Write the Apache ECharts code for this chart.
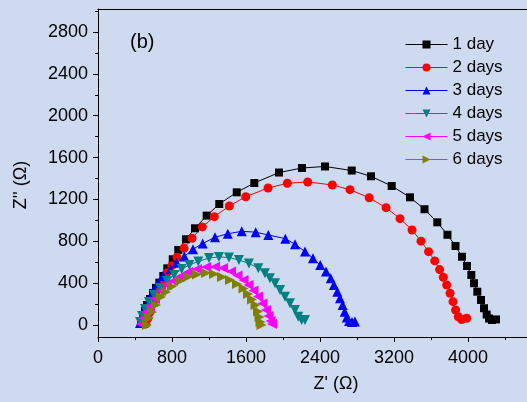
<!DOCTYPE html>
<html>
<head>
<meta charset="utf-8">
<title>EIS</title>
<script src="https://cdn.jsdelivr.net/npm/echarts@6/dist/echarts.min.js"></script>
<style>
  html, body {margin: 0; padding: 0; background: #cedaf0;}
  #main {width: 527px; height: 402px;}
</style>
</head>
<body>
<div id="main"></div>
<script>
// names shown in legend
var seriesNames = ['1 day', '2 days', '3 days', '4 days', '5 days', '6 days'];

// Z' values (ohm) / Z'' values (ohm)
var day1X = [465, 487, 508, 530, 562, 595, 627, 663, 706, 749, 808, 868, 951, 1049, 1175, 1311, 1500, 1690, 1957, 2205, 2454, 2743, 2951, 3175, 3373, 3530, 3668, 3778, 3865, 3935, 3989, 4036, 4065, 4101, 4141, 4173, 4202, 4227, 4259, 4303];
var day1Y = [29, 86, 134, 191, 248, 306, 354, 404, 468, 541, 628, 717, 819, 924, 1045, 1156, 1268, 1357, 1457, 1500, 1515, 1476, 1421, 1328, 1220, 1106, 981, 862, 755, 652, 564, 478, 399, 318, 239, 160, 100, 62, 48, 53];

var day2X = [519, 541, 562, 595, 627, 660, 692, 746, 797, 854, 930, 1016, 1128, 1257, 1420, 1597, 1838, 2047, 2267, 2533, 2724, 2932, 3114, 3265, 3395, 3492, 3574, 3641, 3693, 3733, 3770, 3806, 3838, 3866, 3895, 3932, 3986];
var day2Y = [10, 67, 124, 201, 277, 344, 401, 500, 567, 647, 733, 829, 937, 1035, 1137, 1226, 1309, 1354, 1367, 1338, 1293, 1216, 1121, 1016, 908, 801, 701, 612, 529, 456, 382, 303, 223, 143, 79, 52, 64];

var day3X = [454, 476, 497, 530, 562, 605, 649, 703, 782, 851, 933, 1027, 1132, 1265, 1403, 1554, 1705, 1841, 2025, 2130, 2238, 2324, 2403, 2465, 2516, 2551, 2587, 2616, 2645, 2667, 2689, 2714, 2746, 2778];
var day3Y = [19, 76, 134, 201, 268, 334, 401, 468, 532, 595, 655, 724, 779, 838, 872, 895, 887, 860, 825, 771, 702, 638, 572, 510, 447, 382, 318, 255, 191, 127, 72, 38, 29, 33];

var day4X = [454, 476, 508, 551, 605, 670, 746, 822, 905, 987, 1084, 1200, 1308, 1416, 1524, 1632, 1733, 1805, 1859, 1914, 1968, 2022, 2076, 2130, 2165, 2202, 2238];
var day4Y = [29, 86, 153, 220, 287, 354, 420, 478, 535, 573, 607, 640, 650, 645, 621, 588, 542, 494, 446, 398, 334, 270, 207, 143, 79, 48, 48];

var day5X = [465, 487, 519, 562, 616, 681, 746, 811, 887, 973, 1070, 1168, 1265, 1351, 1438, 1508, 1573, 1627, 1681, 1730, 1778, 1816, 1843, 1865, 1881];
var day5Y = [10, 67, 124, 182, 248, 325, 382, 420, 463, 506, 535, 554, 557, 545, 511, 473, 430, 382, 330, 272, 205, 143, 86, 38, 10];

var day6X = [530, 551, 584, 627, 681, 735, 800, 887, 973, 1070, 1168, 1254, 1341, 1427, 1503, 1573, 1622, 1665, 1703, 1730, 1746, 1757, 1768];
var day6Y = [0, 67, 124, 191, 268, 315, 368, 420, 459, 483, 497, 487, 459, 430, 392, 349, 296, 244, 191, 129, 76, 29, 0];

var xMajorTicks = [0, 800, 1600, 2400, 3200, 4000];
var xMinorTicks = [400, 1200, 2000, 2800, 3600, 4400];
var yMajorTicks = [0, 400, 800, 1200, 1600, 2000, 2400, 2800];
var yMinorTicks = [200, 600, 1000, 1400, 1800, 2200, 2600, 3000];

var colors = ['#000000', '#ff0000', '#0000ff', '#008080', '#ff00ff', '#808000'];
var symbols = ['rect', 'circle', 'triangle', 'triangle', 'triangle', 'triangle'];
var rotations = [0, 0, 0, 180, 90, -90];
var sizes = [8, 9, 10, 10, 10, 10];

function zip(xs, ys) {
  var out = [];
  for (var i = 0; i < xs.length; i++) out.push([xs[i], ys[i]]);
  return out;
}

var allData = [zip(day1X, day1Y), zip(day2X, day2Y), zip(day3X, day3Y),
               zip(day4X, day4Y), zip(day5X, day5Y), zip(day6X, day6Y)];

var font = 'Liberation Sans, Arial, sans-serif';
var plain = function (v) { return String(v); };
var XMIN = 0, XMAX = 4638, YMIN = -115, YMAX = 3020;

var series = allData.map(function (d, i) {
  return {
    name: seriesNames[i],
    type: 'line',
    data: d,
    xAxisIndex: 0,
    yAxisIndex: 0,
    symbol: symbols[i],
    symbolRotate: rotations[i],
    symbolSize: sizes[i],
    showSymbol: true,
    showAllSymbol: true,
    clip: false,
    color: colors[i],
    itemStyle: {color: colors[i]},
    lineStyle: {color: colors[i], width: 1}
  };
});

var chart = echarts.init(document.getElementById('main'));
chart.setOption({
  animation: false,
  backgroundColor: '#cedaf0',
  grid: {left: 98, top: 9, right: 0, bottom: 65},
  legend: {
    orient: 'vertical', left: 400, top: 31,
    itemWidth: 42, itemHeight: 10, itemGap: 6,
    lineStyle: {width: 1},
    textStyle: {fontSize: 17, color: '#000', fontFamily: font},
    data: seriesNames
  },
  xAxis: [{
    type: 'value', position: 'bottom', min: XMIN, max: XMAX,
    axisLine: {onZero: false, lineStyle: {color: '#000', width: 1}},
    axisTick: {length: 5, customValues: xMajorTicks, lineStyle: {color: '#000'}},
    axisLabel: {fontSize: 18, color: '#000', fontFamily: font, margin: 12, customValues: xMajorTicks, formatter: plain},
    splitLine: {show: false}
  }, {
    type: 'value', position: 'bottom', min: XMIN, max: XMAX,
    axisLine: {show: false, onZero: false},
    axisTick: {show: true, length: 3, customValues: xMinorTicks, lineStyle: {color: '#000'}},
    axisLabel: {show: false},
    splitLine: {show: false}
  }, {
    type: 'value', position: 'top', min: XMIN, max: XMAX,
    axisLine: {show: true, onZero: false, lineStyle: {color: '#000', width: 1}},
    axisTick: {show: false},
    axisLabel: {show: false},
    splitLine: {show: false}
  }],
  yAxis: [{
    type: 'value', position: 'left', min: YMIN, max: YMAX,
    axisLine: {show: true, onZero: false, lineStyle: {color: '#000', width: 1}},
    axisTick: {show: true, length: 5, customValues: yMajorTicks, lineStyle: {color: '#000'}},
    axisLabel: {fontSize: 18, color: '#000', fontFamily: font, margin: 10, customValues: yMajorTicks, formatter: plain},
    splitLine: {show: false}
  }, {
    type: 'value', position: 'left', min: YMIN, max: YMAX,
    axisLine: {show: false, onZero: false},
    axisTick: {show: true, length: 3, customValues: yMinorTicks, lineStyle: {color: '#000'}},
    axisLabel: {show: false},
    splitLine: {show: false}
  }],
  graphic: [
    {type: 'text', left: 130, top: 32, style: {text: '(b)', fontSize: 20, fill: '#000', fontFamily: font}},
    {type: 'text', x: 336, y: 384, style: {text: "Z' (Ω)", fontSize: 18, fill: '#000', fontFamily: font, textAlign: 'center', verticalAlign: 'middle', textVerticalAlign: 'middle'}},
    {type: 'text', x: 21, y: 185, rotation: Math.PI / 2, style: {text: "Z'' (Ω)", fontSize: 18, fill: '#000', fontFamily: font, textAlign: 'center', verticalAlign: 'middle', textVerticalAlign: 'middle'}}
  ],
  series: series
});
window.onresize = chart.resize;
</script>
</body>
</html>
